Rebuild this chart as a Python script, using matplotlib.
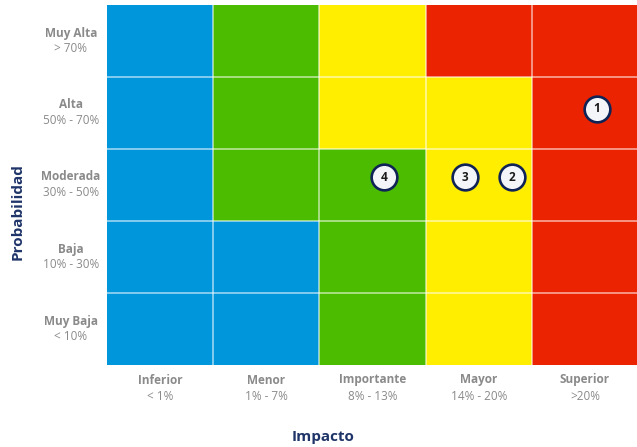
import matplotlib
matplotlib.use("Agg")
import matplotlib.pyplot as plt
from matplotlib.colors import ListedColormap
import numpy as np

impact_names = ["Inferior", "Menor", "Importante", "Mayor", "Superior"]
impact_ranges = ["< 1%", "1% - 7%", "8% - 13%", "14% - 20%", ">20%"]
prob_names = ["Muy Baja", "Baja", "Moderada", "Alta", "Muy Alta"]  # bottom to top
prob_ranges = ["< 10%", "10% - 30%", "30% - 50%", "50% - 70%", "> 70%"]

# risk level per cell: rows bottom->top, cols left->right (0 blue,1 green,2 yellow,3 red)
levels = [
    [0, 0, 1, 2, 3],
    [0, 0, 1, 2, 3],
    [0, 1, 1, 2, 3],
    [0, 1, 2, 2, 3],
    [0, 1, 2, 3, 3],
]
level_colors = ["#0096DC", "#4CBC00", "#FFEE00", "#EB2300"]

risk_ids = ["1", "2", "3", "4"]
risk_impact = [4.61, 3.81, 3.37, 2.61]
risk_prob = [3.56, 2.61, 2.61, 2.61]

W, H = 637, 447
fig = plt.figure(figsize=(W / 100, H / 100), dpi=100)
x0, x1, y0, y1 = 107, 638, 5, 365
ax = fig.add_axes([x0 / W, 1 - y1 / H, (x1 - x0) / W, (y1 - y0) / H])

cmap = ListedColormap(level_colors)
ax.pcolormesh(np.arange(6), np.arange(6), np.array(levels), cmap=cmap,
              vmin=-0.5, vmax=3.5, shading="flat")
for v in range(1, 5):
    ax.axvline(v, color="white", alpha=0.6, lw=1.2)
    ax.axhline(v, color="white", alpha=0.6, lw=1.2)
ax.set_xlim(0, 5)
ax.set_ylim(0, 5)
ax.set_xticks([])
ax.set_yticks([])
for s in ax.spines.values():
    s.set_visible(False)

ax.plot(risk_impact, risk_prob, "o", ms=18.5, mfc="#F4F5F9", mec="#0F2357", mew=1.9,
        linestyle="none", zorder=5)
for rid, xi, yi in zip(risk_ids, risk_impact, risk_prob):
    ax.text(xi, yi, rid, ha="center", va="center", fontsize=8.5, fontweight="bold",
            color="#1A1A1A", zorder=6, family="Open Sans")

gray = "#8A8A8A"
fam = "Open Sans"
cw = (634 - x0) / 5
for i, (n, r) in enumerate(zip(impact_names, impact_ranges)):
    xc = (x0 + (i + 0.5) * (x1 - x0) / 5) / W
    fig.text(xc, 1 - 380 / H, n, ha="center", va="center", fontsize=8.5,
             fontweight="bold", color=gray, family=fam)
    fig.text(xc, 1 - 396 / H, r, ha="center", va="center", fontsize=8.5,
             color=gray, family=fam)

for j, (n, r) in enumerate(zip(prob_names, prob_ranges)):
    yc = y1 - (j + 0.5) * (y1 - y0) / 5
    fig.text(71 / W, 1 - (yc - 8) / H, n, ha="center", va="center", fontsize=8.5,
             fontweight="bold", color=gray, family=fam)
    fig.text(71 / W, 1 - (yc + 7) / H, r, ha="center", va="center", fontsize=8.5,
             color=gray, family=fam)

navy = "#1F3468"
fig.text(18 / W, 1 - 212 / H, "Probabilidad", rotation=90, ha="center", va="center",
         fontsize=11, fontweight="bold", color=navy, family=fam)
fig.text(323 / W, 1 - 437 / H, "Impacto", ha="center", va="center",
         fontsize=11, fontweight="bold", color=navy, family=fam)

fig.savefig("out.png", dpi=100)
